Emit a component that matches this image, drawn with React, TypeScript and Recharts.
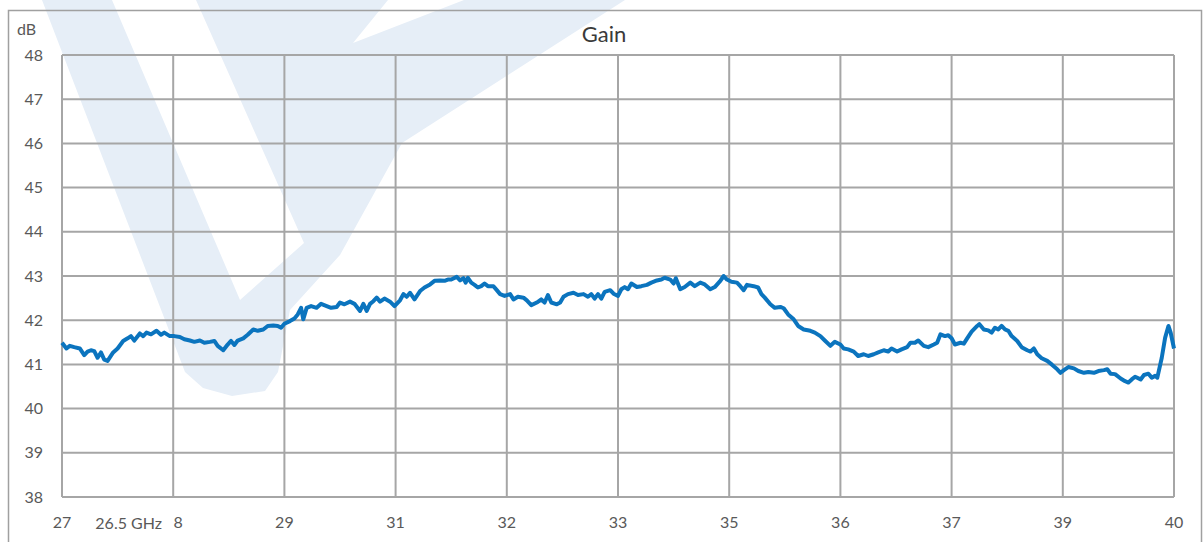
import React from 'react';
import { LineChart, Line, XAxis, YAxis, CartesianGrid } from 'recharts';

// position along the x axis, in grid divisions (0 = left edge, 10 = right edge)
const freqPos = [
  0.00, 0.04, 0.07, 0.11, 0.16, 0.20, 0.23, 0.26, 0.29, 0.32,
  0.35, 0.38, 0.41, 0.46, 0.50, 0.55, 0.59, 0.62, 0.65, 0.70,
  0.73, 0.76, 0.80, 0.85, 0.89, 0.92, 0.97, 1.01, 1.06, 1.10,
  1.15, 1.19, 1.24, 1.28, 1.33, 1.37, 1.40, 1.45, 1.49, 1.52,
  1.55, 1.58, 1.63, 1.67, 1.72, 1.76, 1.81, 1.85, 1.90, 1.94,
  1.97, 2.00, 2.05, 2.09, 2.12, 2.15, 2.17, 2.20, 2.24, 2.29,
  2.33, 2.38, 2.42, 2.47, 2.50, 2.54, 2.59, 2.63, 2.68, 2.71,
  2.74, 2.77, 2.80, 2.83, 2.86, 2.90, 2.95, 2.99, 3.04, 3.07,
  3.10, 3.13, 3.17, 3.22, 3.26, 3.31,
  3.35, 3.40, 3.44, 3.47, 3.50, 3.55, 3.58, 3.61, 3.63, 3.65,
  3.68, 3.71, 3.74, 3.77, 3.80, 3.83, 3.88, 3.91, 3.94, 3.98,
  4.03, 4.06, 4.10, 4.15, 4.18, 4.22, 4.27, 4.31, 4.34, 4.37,
  4.40, 4.45, 4.48, 4.51, 4.55, 4.60, 4.64, 4.69, 4.73, 4.76,
  4.79, 4.82, 4.85, 4.88, 4.93, 4.96, 5.00, 5.03, 5.06, 5.09,
  5.12, 5.17, 5.21, 5.26, 5.30, 5.35, 5.39, 5.42, 5.47, 5.50,
  5.52, 5.56, 5.60, 5.65, 5.69, 5.74, 5.78, 5.83, 5.87, 5.92,
  5.95, 5.98, 6.02, 6.07, 6.10, 6.13, 6.16, 6.22, 6.26, 6.29,
  6.32, 6.37, 6.41, 6.46, 6.49, 6.53, 6.58, 6.62, 6.67,
  6.73, 6.77, 6.82, 6.86, 6.91, 6.95, 7.00, 7.03, 7.07, 7.12,
  7.16, 7.21, 7.25, 7.30, 7.34, 7.39, 7.43, 7.46, 7.51, 7.55,
  7.60, 7.63, 7.67, 7.70, 7.75, 7.79, 7.84, 7.87, 7.90, 7.94,
  7.97, 8.00, 8.03, 8.08, 8.11, 8.14, 8.18, 8.23, 8.25, 8.29,
  8.33, 8.36, 8.39, 8.42, 8.45, 8.48, 8.51, 8.54, 8.59, 8.63,
  8.68, 8.71, 8.74, 8.77, 8.81, 8.86, 8.90, 8.95, 8.98, 9.01,
  9.05, 9.10, 9.14, 9.19, 9.23, 9.28, 9.32, 9.37, 9.40, 9.43,
  9.47, 9.52, 9.56, 9.59, 9.62, 9.65, 9.70, 9.73, 9.77, 9.80,
  9.83, 9.85, 9.89, 9.92, 9.95, 9.97, 10.00,
];

// gain in dB
const gainDb = [
  41.49, 41.36, 41.42, 41.39, 41.36, 41.21, 41.29, 41.32, 41.30, 41.15,
  41.27, 41.11, 41.08, 41.27, 41.36, 41.53, 41.59, 41.64, 41.54, 41.70,
  41.64, 41.72, 41.68, 41.76, 41.67, 41.72, 41.64, 41.64, 41.62, 41.57,
  41.54, 41.51, 41.54, 41.49, 41.51, 41.53, 41.42, 41.32, 41.45, 41.53,
  41.44, 41.54, 41.59, 41.67, 41.79, 41.76, 41.79, 41.87, 41.88, 41.87,
  41.83, 41.92, 41.98, 42.04, 42.13, 42.28, 42.02, 42.28, 42.32, 42.28,
  42.37, 42.32, 42.28, 42.30, 42.40, 42.36, 42.42, 42.37, 42.21, 42.37,
  42.21, 42.37, 42.43, 42.51, 42.42, 42.49, 42.42, 42.32, 42.45, 42.59,
  42.53, 42.62, 42.47, 42.66, 42.74, 42.81,
  42.89, 42.90, 42.89, 42.92, 42.92, 42.98, 42.90, 42.95, 42.85, 42.96,
  42.85, 42.80, 42.74, 42.77, 42.83, 42.77, 42.77, 42.68, 42.59, 42.55,
  42.59, 42.47, 42.53, 42.51, 42.45, 42.34, 42.40, 42.47, 42.40, 42.57,
  42.40, 42.36, 42.40, 42.53, 42.59, 42.62, 42.57, 42.59, 42.53, 42.59,
  42.49, 42.59, 42.49, 42.64, 42.68, 42.60, 42.55, 42.70, 42.75, 42.70,
  42.83, 42.75, 42.77, 42.80, 42.85, 42.90, 42.92, 42.96, 42.92, 42.83,
  42.95, 42.70, 42.75, 42.85, 42.77, 42.85, 42.81, 42.70, 42.75, 42.89,
  43.00, 42.92, 42.87, 42.85, 42.77, 42.68, 42.80, 42.77, 42.74, 42.59,
  42.51, 42.36, 42.28, 42.30, 42.27, 42.13, 42.02, 41.87, 41.79,
  41.76, 41.72, 41.64, 41.54, 41.42, 41.51, 41.45, 41.36, 41.34, 41.29,
  41.19, 41.23, 41.19, 41.23, 41.27, 41.32, 41.29, 41.36, 41.29, 41.34,
  41.39, 41.49, 41.49, 41.54, 41.42, 41.39, 41.45, 41.49, 41.68, 41.64,
  41.66, 41.59, 41.45, 41.49, 41.47, 41.59, 41.74, 41.87, 41.91, 41.79,
  41.77, 41.72, 41.83, 41.79, 41.87, 41.79, 41.76, 41.64, 41.53, 41.39,
  41.32, 41.29, 41.36, 41.23, 41.14, 41.08, 41.00, 40.89, 40.81, 40.87,
  40.94, 40.91, 40.85, 40.81, 40.83, 40.81, 40.85, 40.87, 40.89, 40.79,
  40.78, 40.68, 40.62, 40.59, 40.66, 40.72, 40.66, 40.76, 40.79, 40.70,
  40.74, 40.70, 41.15, 41.60, 41.87, 41.72, 41.36,
];

const xTicks = [0, 1, 2, 3, 4, 5, 6, 7, 8, 9, 10];
const xTickLabels = ['27', '8', '29', '31', '32', '33', '35', '36', '37', '39', '40'];
const yTicks = [38, 39, 40, 41, 42, 43, 44, 45, 46, 47, 48];

const FONT = 'Lato, "Open Sans", sans-serif';
const LABEL_GRAY = '#595959';
const GRID_GRAY = '#a6a6a6';

const data = freqPos
  .slice(0, Math.min(freqPos.length, gainDb.length))
  .map((x, i) => ({ x, gain: gainDb[i] }));

function XTick(props: any) {
  const { x, y, payload } = props;
  const idx = xTicks.indexOf(payload.value);
  const label = xTickLabels[idx] ?? '';
  // the "8" label sits just right of its gridline in the original
  const shift = idx === 1 ? 5 : 0;
  return (
    <text
      x={x + shift}
      y={y}
      dy="0.71em"
      textAnchor="middle"
      fontFamily={FONT}
      fontSize={16}
      fill={LABEL_GRAY}
    >
      {label}
    </text>
  );
}

export default function App() {
  return (
    <div style={{ position: 'absolute', left: 0, top: 0, width: 1204, height: 542, background: '#fff', overflow: 'hidden' }}>
      {/* faint logo watermark + frame */}
      <svg width={1204} height={542} style={{ position: 'absolute', left: 0, top: 0 }}>
        <polygon
          fill="#e6eef7"
          points="42,0 112,0 240,300 304,243 196,0 388,0 353,43 464,0 625,0 402,143 340,255 290,310 278,372 265,391 232,396 203,388 185,372"
        />
        <rect x={8.5} y={10.5} width={1193} height={540} fill="none" stroke="#a0a0a0" strokeWidth={1.5} />
        <text x={604} y={42} textAnchor="middle" fontFamily={FONT} fontSize={22} fill="#3a3a3a">
          Gain
        </text>
        <text x={17} y={35} fontFamily={FONT} fontSize={16} fill={LABEL_GRAY}>
          dB
        </text>
        <text x={162} y={529} textAnchor="end" fontFamily={FONT} fontSize={16} fill={LABEL_GRAY}>
          26.5 GHz
        </text>
      </svg>
      <div style={{ position: 'absolute', left: 0, top: 0 }}>
        <LineChart width={1204} height={542} data={data} margin={{ top: 55, right: 30, bottom: 5, left: 2 }}>
          <CartesianGrid stroke={GRID_GRAY} strokeWidth={2} />
          <XAxis
            dataKey="x"
            type="number"
            domain={[0, 10]}
            ticks={xTicks}
            interval={0}
            height={40}
            axisLine={false}
            tickLine={false}
            tickSize={0}
            tickMargin={20}
            tick={<XTick />}
          />
          <YAxis
            type="number"
            domain={[38, 48]}
            ticks={yTicks}
            interval={0}
            width={60}
            axisLine={false}
            tickLine={false}
            tickSize={0}
            tickMargin={19}
            tick={{ fontFamily: FONT, fontSize: 16, fill: LABEL_GRAY }}
          />
          <Line
            type="linear"
            dataKey="gain"
            stroke="#0b74be"
            strokeWidth={4}
            strokeLinejoin="round"
            dot={false}
            isAnimationActive={false}
          />
        </LineChart>
      </div>
    </div>
  );
}
